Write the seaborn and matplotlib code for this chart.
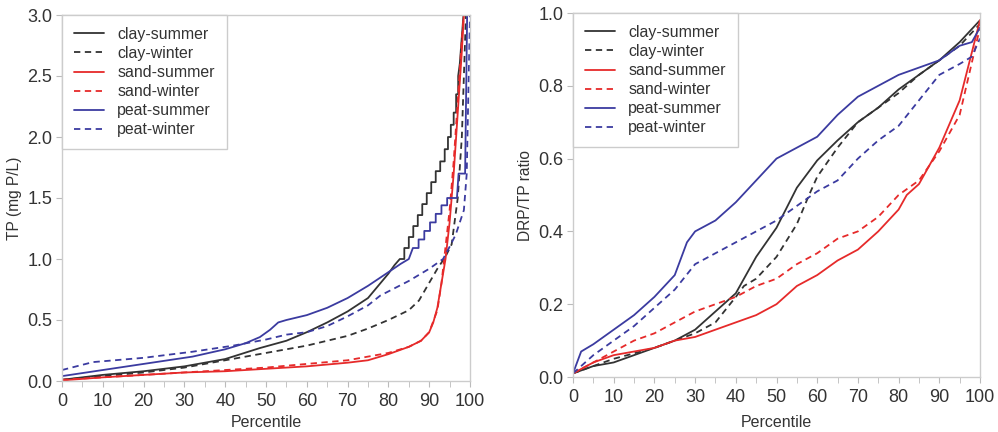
import numpy as np
import pandas as pd
import matplotlib
matplotlib.use("Agg")
import matplotlib.pyplot as plt
import seaborn as sns

sns.set_style("white")
plt.rcParams['font.family'] = ['Liberation Sans', 'DejaVu Sans']

series_names = ["clay-summer", "clay-winter", "sand-summer", "sand-winter", "peat-summer", "peat-winter"]

# ---- Left panel: TP (mg P/L) vs percentile ----
tp_clay_summer_p = [0, 10, 20, 30, 40, 48.5, 55, 60, 65, 70, 75, 80, 81.5, 82.8, 83.9, 83.9, 85, 85, 86.1, 86.1,
                    87.2, 87.2, 88.3, 88.3, 89.4, 89.4, 90.5, 90.5, 91.6, 91.6, 92.7, 92.7, 93.8, 93.8, 94.6, 94.6,
                    95.3, 95.3, 96, 96, 96.6, 96.6, 97.1, 97.1, 97.5, 98.4]
tp_clay_summer_v = [0.01, 0.05, 0.08, 0.12, 0.18, 0.27, 0.33, 0.40, 0.48, 0.57, 0.68, 0.88, 0.95, 1.0, 1.0, 1.09, 1.09, 1.18, 1.18, 1.27,
                    1.27, 1.36, 1.36, 1.45, 1.45, 1.54, 1.54, 1.63, 1.63, 1.72, 1.72, 1.80, 1.80, 1.90, 1.90, 2.0,
                    2.0, 2.1, 2.1, 2.2, 2.2, 2.35, 2.35, 2.5, 2.6, 3.0]
tp_clay_winter_p = [0, 10, 20, 30, 40, 50, 60, 70, 75, 80, 85, 87.5, 89.4, 92, 94, 95.5, 97, 98, 99]
tp_clay_winter_v = [0.01, 0.04, 0.07, 0.11, 0.17, 0.23, 0.29, 0.37, 0.43, 0.50, 0.58, 0.66, 0.77, 0.92, 1.02, 1.12, 1.5, 2.0, 3.0]
tp_sand_summer_p = [0, 10, 20, 30, 40, 50, 60, 70, 75, 80, 85, 88, 90, 91, 92, 93, 94, 95, 96, 97, 98, 98.5]
tp_sand_summer_v = [0.005, 0.03, 0.05, 0.07, 0.08, 0.10, 0.12, 0.15, 0.17, 0.22, 0.28, 0.33, 0.40, 0.48, 0.60, 0.80, 1.0, 1.3, 1.7, 2.2, 2.7, 3.0]
tp_sand_winter_p = [0, 10, 20, 30, 40, 50, 60, 70, 80, 85, 88, 90, 92, 93, 94, 95, 96, 97, 98, 98.5]
tp_sand_winter_v = [0.01, 0.03, 0.05, 0.07, 0.09, 0.11, 0.14, 0.17, 0.23, 0.28, 0.33, 0.40, 0.58, 0.80, 1.1, 1.4, 1.8, 2.3, 2.8, 3.0]
tp_peat_summer_p = [0, 10, 16, 24, 32, 40, 45, 48.5, 51, 53, 55, 60, 65, 70, 75, 80.8, 83, 85, 86, 87.4, 87.4, 88.8, 88.8,
                    90.2, 90.2, 91.6, 91.6, 93, 93, 94.4, 94.4, 96.8, 97.2, 98.8, 99.3]
tp_peat_summer_v = [0.04, 0.09, 0.12, 0.16, 0.20, 0.26, 0.31, 0.36, 0.42, 0.48, 0.50, 0.54, 0.60, 0.68, 0.78, 0.91, 0.96, 1.0, 1.09, 1.09, 1.16, 1.16, 1.23,
                    1.23, 1.30, 1.30, 1.37, 1.37, 1.44, 1.44, 1.50, 1.50, 1.70, 1.70, 3.0]
tp_peat_winter_p = [0, 7.6, 20, 32, 42, 50, 55, 60, 65, 70, 75, 78, 85, 90, 93.4, 95, 96.5, 97.5, 98.5, 99.2, 99.5, 100]
tp_peat_winter_v = [0.09, 0.155, 0.19, 0.24, 0.29, 0.34, 0.38, 0.40, 0.45, 0.53, 0.62, 0.70, 0.82, 0.92, 1.0, 1.1, 1.2, 1.3, 1.4, 1.7, 2.2, 3.0]

# ---- Right panel: DRP/TP ratio vs percentile ----
r_clay_summer_p = [0, 5, 10, 15, 20, 25, 30, 35, 40, 42, 45, 50, 55, 60, 65, 70, 75, 80, 85, 90, 95, 100]
r_clay_summer_v = [0.01, 0.03, 0.04, 0.06, 0.08, 0.10, 0.13, 0.18, 0.23, 0.27, 0.33, 0.41, 0.52, 0.595, 0.65, 0.70, 0.74, 0.79, 0.83, 0.87, 0.92, 0.98]
r_clay_winter_p = [0, 10, 20, 25, 30, 35, 40, 42, 45, 50, 55, 58, 60, 65, 70, 75, 80, 85, 90, 95, 100]
r_clay_winter_v = [0.01, 0.05, 0.08, 0.10, 0.12, 0.15, 0.22, 0.25, 0.27, 0.33, 0.42, 0.50, 0.55, 0.63, 0.70, 0.74, 0.78, 0.83, 0.87, 0.91, 0.97]
r_sand_summer_p = [0, 5, 10, 15, 20, 25, 30, 35, 40, 45, 50, 55, 60, 65, 70, 75, 80, 82, 85, 90, 95, 100]
r_sand_summer_v = [0.01, 0.04, 0.06, 0.07, 0.08, 0.10, 0.11, 0.13, 0.15, 0.17, 0.20, 0.25, 0.28, 0.32, 0.35, 0.40, 0.46, 0.50, 0.53, 0.63, 0.76, 0.98]
r_sand_winter_p = [0, 5, 10, 15, 20, 25, 30, 35, 40, 45, 50, 55, 60, 65, 70, 75, 80, 85, 90, 95, 100]
r_sand_winter_v = [0.01, 0.04, 0.07, 0.10, 0.12, 0.15, 0.18, 0.20, 0.22, 0.25, 0.27, 0.31, 0.34, 0.38, 0.40, 0.44, 0.50, 0.54, 0.62, 0.72, 0.96]
r_peat_summer_p = [0, 2, 5, 10, 15, 20, 25, 28, 30, 35, 40, 45, 50, 55, 60, 65, 70, 75, 80, 85, 90, 95, 98, 100]
r_peat_summer_v = [0.01, 0.07, 0.09, 0.13, 0.17, 0.22, 0.28, 0.37, 0.40, 0.43, 0.48, 0.54, 0.60, 0.63, 0.66, 0.72, 0.77, 0.80, 0.83, 0.85, 0.87, 0.91, 0.92, 0.96]
r_peat_winter_p = [0, 5, 10, 15, 20, 25, 30, 35, 40, 45, 50, 55, 60, 65, 70, 75, 80, 85, 90, 95, 98, 100]
r_peat_winter_v = [0.01, 0.06, 0.10, 0.14, 0.19, 0.24, 0.31, 0.34, 0.37, 0.40, 0.43, 0.47, 0.51, 0.54, 0.60, 0.65, 0.69, 0.76, 0.83, 0.86, 0.88, 0.93]

tp_data = [(tp_clay_summer_p, tp_clay_summer_v), (tp_clay_winter_p, tp_clay_winter_v),
           (tp_sand_summer_p, tp_sand_summer_v), (tp_sand_winter_p, tp_sand_winter_v),
           (tp_peat_summer_p, tp_peat_summer_v), (tp_peat_winter_p, tp_peat_winter_v)]
r_data = [(r_clay_summer_p, r_clay_summer_v), (r_clay_winter_p, r_clay_winter_v),
          (r_sand_summer_p, r_sand_summer_v), (r_sand_winter_p, r_sand_winter_v),
          (r_peat_summer_p, r_peat_summer_v), (r_peat_winter_p, r_peat_winter_v)]

colors = ["#333333", "#333333", "#e62a2a", "#e62a2a", "#3b3ba0", "#3b3ba0"]
styles = ["-", (0, (3.5, 2.5)), "-", (0, (3.5, 2.5)), "-", (0, (3.5, 2.5))]

fig = plt.figure(figsize=(9.98, 4.32), dpi=100)
ax1 = fig.add_axes([62/998, 1-381/432, 408/998, 366/432])
ax2 = fig.add_axes([573/998, 1-377/432, 407/998, 364/432])

def draw(ax, data):
    for name, (p, v), c, ls in zip(series_names, data, colors, styles):
        df = pd.DataFrame({"Percentile": p, "value": v})
        sns.lineplot(data=df, x="Percentile", y="value", ax=ax, color=c,
                     linestyle=ls, linewidth=1.3, label=name, estimator=None, sort=False)

draw(ax1, tp_data)
draw(ax2, r_data)

for ax, ylim, yt, ylab, xlp in [(ax1, (0, 3.0), np.arange(0, 3.01, 0.5), "TP (mg P/L)", 3),
                                (ax2, (0, 1.0), np.arange(0, 1.01, 0.2), "DRP/TP ratio", 6)]:
    ax.set_xlim(0, 100)
    ax.set_ylim(*ylim)
    ax.set_xticks(np.arange(0, 101, 10))
    ax.set_xticks(np.arange(0, 101, 5), minor=True)
    ax.set_yticks(yt)
    ax.set_yticklabels([f"{t:.1f}" for t in yt])
    ax.set_xlabel("Percentile", fontsize=11.5, color="#333333", labelpad=xlp)
    ax.set_ylabel(ylab, fontsize=11.2, color="#333333", labelpad=4)
    for s in ax.spines.values():
        s.set_color("#cccccc")
        s.set_linewidth(1.0)
    ax.tick_params(axis="both", which="both", direction="out", color="#bbbbbb",
                   labelsize=13, labelcolor="#333333", bottom=True, left=True, pad=3)
    ax.tick_params(axis="x", which="major", pad=5)
    ax.tick_params(which="major", length=4)
    ax.tick_params(which="minor", length=4)
    leg = ax.legend(loc="upper left", fontsize=11.4, frameon=True, fancybox=False,
                    handlelength=1.9, handletextpad=0.85, borderpad=0.75, labelspacing=0.26,
                    borderaxespad=0.0, edgecolor="#cccccc", framealpha=1)
    leg.get_frame().set_linewidth(1.0)
    for t in leg.get_texts():
        t.set_color("#333333")

fig.savefig("out.png", dpi=100, facecolor="white")
